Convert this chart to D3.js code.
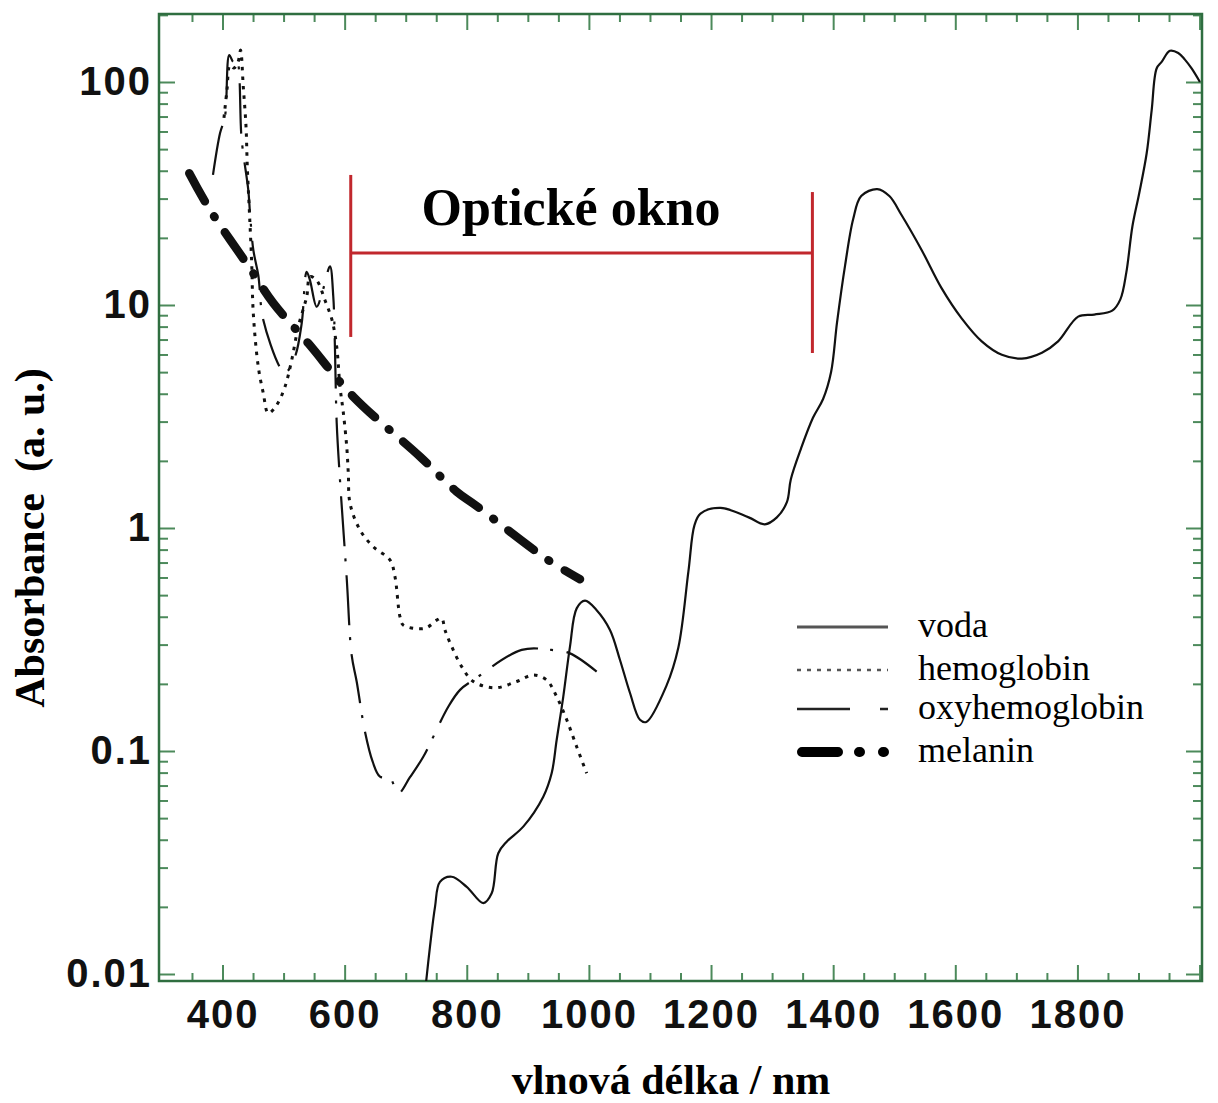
<!DOCTYPE html>
<meta charset="utf-8">
<style>
body { margin: 0; background: #fff; }
.frame { fill: none; stroke: #2f6e40; stroke-width: 2.5px; }
.ticks line { stroke: #4c8a5b; stroke-width: 2px; }
.ticks path { display: none; }
.labels path, .labels line { display: none; }
.labels text { font: bold 40px "Liberation Sans", Arial, sans-serif; letter-spacing: 2px; fill: #111; }
.axtitle { font: bold 42px "Liberation Serif", "Times New Roman", serif; fill: #000; white-space: pre; }
.window { font: bold 52px "Liberation Serif", "Times New Roman", serif; fill: #000; }
.curve { fill: none; stroke: #111; }
.legend text { font: 36px "Liberation Serif", "Times New Roman", serif; fill: #000; }
</style>

<svg id="chart" width="1218" height="1103"></svg>

<script src="https://cdn.jsdelivr.net/npm/d3@7"></script>
<script>

// wavelength (nm), absorbance (a.u.)
var voda = [
  [733, 0.009], [739.8, 0.0133], [748, 0.020], [756.1, 0.0259], [775.3, 0.0273], [799.9, 0.0246],
  [827, 0.0208], [840.8, 0.0230], [851.6, 0.0348], [865.4, 0.0392], [892.5, 0.0458], [925.3, 0.0624],
  [939, 0.0794], [947.2, 0.112], [958, 0.175], [969, 0.294], [980, 0.436], [993.6, 0.472],
  [1012.7, 0.428], [1034.5, 0.349], [1050.9, 0.256], [1067.3, 0.182], [1083.6, 0.138], [1094, 0.135],
  [1126.9, 0.196], [1146.5, 0.291], [1163, 0.641], [1172.9, 1.03], [1182.7, 1.16], [1215.6, 1.23],
  [1261.6, 1.116], [1288, 1.039], [1307.8, 1.116], [1324.2, 1.306], [1330.7, 1.656], [1347.3, 2.27],
  [1366.9, 3.12], [1383.5, 3.79], [1396.6, 5.01], [1406.4, 8.38], [1419.6, 15.1], [1432.8, 24.3],
  [1445.9, 30.8], [1472.2, 33.1], [1492, 30.8], [1511.7, 25.4], [1544.6, 17.7], [1577.5, 11.9],
  [1610.4, 8.71], [1643.3, 6.87], [1676.2, 5.98], [1709, 5.75], [1741.9, 6.11], [1768.3, 6.87],
  [1801.2, 8.87], [1827.5, 9.06], [1857, 9.43], [1870.3, 10.6], [1880.1, 14.0], [1890, 22.5],
  [1901.2, 31.7], [1913.4, 47.9], [1921.6, 74.8], [1929.7, 115], [1937.9, 123], [1951.5, 138],
  [1965.1, 135], [1976, 126], [1987, 115], [2000.6, 100]
];

var hemoglobin = [
  [402.4, 69.0], [407.3, 92.1], [412.3, 119], [418.8, 115.5], [425.4, 123], [429.5, 139],
  [434, 95.3], [438.5, 63.1], [440.6, 41.7], [443.9, 26.7], [447.8, 15.4], [450.4, 9.18],
  [458.6, 5.28], [466.8, 4.02], [475, 3.27], [488.7, 3.56], [502.3, 4.30], [513.3, 5.66],
  [524.1, 8.0], [537.9, 10.9], [543.3, 13.4], [554.2, 12.9], [567.8, 10.5], [579.3, 8.57],
  [587, 6.50], [592.4, 4.30], [597.8, 3.30], [603.4, 2.32], [606, 1.76], [608.8, 1.29],
  [625.1, 0.98], [646.9, 0.824], [674.2, 0.719], [682.4, 0.605], [690.6, 0.400], [696, 0.367],
  [731.6, 0.355], [750.7, 0.386], [758.9, 0.394], [764.3, 0.349], [775.3, 0.294], [791.7, 0.239],
  [810.7, 0.205], [846.2, 0.192], [881.8, 0.205], [909, 0.219], [930.9, 0.208], [947.3, 0.175],
  [963.7, 0.138], [980, 0.1045], [996.4, 0.0794]
];

var oxyhemoglobin = [
  [384.4, 38.3], [396, 59.0], [404, 69.8], [411.1, 132], [417.7, 123], [423.2, 126],
  [431.4, 55], [442.2, 32.8], [445, 25.9], [450.4, 17.7], [458.6, 13.6], [466.8, 8.57],
  [496.9, 5.12], [504, 5.0], [518.7, 5.86], [529.7, 8.28], [537.8, 14.1], [543.3, 12.9],
  [554.2, 9.82], [564.5, 11.7], [576, 14.9], [581.4, 10.9], [584.2, 6.28], [587, 2.96],
  [592.4, 1.64], [603.4, 0.595], [611.5, 0.269], [619.7, 0.205], [633.3, 0.122], [645.9, 0.0895],
  [657.9, 0.0767], [674.3, 0.0755], [687.9, 0.0646], [707, 0.0763], [728.8, 0.0943], [769.7, 0.158],
  [789, 0.188], [810.7, 0.208], [889.9, 0.284], [939, 0.284], [969, 0.274], [1012.7, 0.227]
];

var melanin = [
  [345.6, 39.0], [379.5, 26.7], [445, 14.6], [483.2, 10.2], [540.5, 6.73], [614.2, 3.88],
  [723.4, 2.09], [783.5, 1.455], [813.5, 1.27], [933, 0.719], [985.4, 0.589]
];

var xLabels = [400, 600, 800, 1000, 1200, 1400, 1600, 1800];
var yLabels = [100, 10, 1, 0.1, 0.01];
var legendNames = ["voda", "hemoglobin", "oxyhemoglobin", "melanin"];

// "Optické okno" bracket: wavelengths and absorbance ends
var windowNm = [610, 1366];
var windowLeft = [38.3, 7.19], windowRight = [32.1, 6.09], windowBar = 17.1;

var svg = d3.select("#chart");
var mLeft = 159, mRight = 1202, mTop = 14, mBottom = 981;

var x = d3.scaleLinear().domain([296, 2004]).range([mLeft, mRight]);
var y = d3.scaleLog()
    .domain([Math.pow(10, -2 - 7 / 223), Math.pow(10, 2 + 68 / 223)])
    .range([mBottom, mTop]);

var xMinor = d3.range(350, 2001, 50).filter(v => v % 200 != 0);
var xMajor = d3.range(400, 2001, 200);
var yMinor = [], yMajor = [];
for (var d = -2; d <= 2; d++)
  for (var k = 1; k <= 9; k++) {
    var v = k * Math.pow(10, d);
    if (v >= y.domain()[0] && v <= y.domain()[1]) (k == 1 ? yMajor : yMinor).push(v);
  }

// inward ticks on all four sides
function ticks(axis, vals, len, tr) {
  svg.append("g").attr("class", "ticks").attr("transform", tr)
    .call(axis.tickValues(vals).tickSize(-len).tickFormat(""));
}
ticks(d3.axisBottom(x), xMinor, 8, `translate(0,${mBottom})`);
ticks(d3.axisBottom(x), xMajor, 16, `translate(0,${mBottom})`);
ticks(d3.axisTop(x), xMinor, 8, `translate(0,${mTop})`);
ticks(d3.axisTop(x), xMajor, 16, `translate(0,${mTop})`);
ticks(d3.axisLeft(y), yMinor, 9, `translate(${mLeft},0)`);
ticks(d3.axisLeft(y), yMajor, 16, `translate(${mLeft},0)`);
ticks(d3.axisRight(y), yMinor, 9, `translate(${mRight},0)`);
ticks(d3.axisRight(y), yMajor, 16, `translate(${mRight},0)`);

svg.append("rect").attr("class", "frame")
  .attr("x", mLeft).attr("y", mTop).attr("width", mRight - mLeft).attr("height", mBottom - mTop);

// tick labels
svg.append("g").attr("class", "labels").attr("transform", `translate(0,${mBottom})`)
  .call(d3.axisBottom(x).tickValues(xLabels).tickSize(0).tickPadding(19).tickFormat(d3.format("d")));
svg.append("g").attr("class", "labels").attr("transform", `translate(${mLeft},0)`)
  .call(d3.axisLeft(y).tickValues(yLabels).tickSize(0).tickPadding(7).tickFormat(v => String(v)));

// axis titles
svg.append("text").attr("class", "axtitle")
  .attr("x", 671).attr("y", 1094).attr("text-anchor", "middle")
  .text("vlnová délka / nm");
svg.append("text").attr("class", "axtitle")
  .attr("transform", "translate(44,538) rotate(-90)").attr("text-anchor", "middle")
  .text("Absorbance  (a. u.)");

// curves
svg.append("clipPath").attr("id", "plot")
  .append("rect").attr("x", mLeft).attr("y", mTop).attr("width", mRight - mLeft).attr("height", mBottom - mTop);
var plot = svg.append("g").attr("clip-path", "url(#plot)");

var line = d3.line().x(d => x(d[0])).y(d => y(d[1])).curve(d3.curveCatmullRom.alpha(0.5));

plot.append("path").datum(voda).attr("class", "curve")
  .attr("stroke-width", 2.2).attr("d", line);
plot.append("path").datum(hemoglobin).attr("class", "curve")
  .attr("stroke-width", 3).attr("stroke-dasharray", "3.5,6").attr("d", line);
plot.append("path").datum(oxyhemoglobin).attr("class", "curve")
  .attr("stroke-width", 2.2).attr("stroke-dasharray", "50,12,3,14").attr("d", line);
plot.append("path").datum(melanin).attr("class", "curve")
  .attr("stroke-width", 8.5).attr("stroke-linecap", "round")
  .attr("stroke-dasharray", "32,18,1,18").attr("d", line);

// optical window bracket
var red = "#c1272d";
var br = svg.append("g").attr("stroke", red).attr("stroke-width", 3);
br.append("line").attr("x1", x(windowNm[0])).attr("x2", x(windowNm[0]))
  .attr("y1", y(windowLeft[0])).attr("y2", y(windowLeft[1]));
br.append("line").attr("x1", x(windowNm[1])).attr("x2", x(windowNm[1]))
  .attr("y1", y(windowRight[0])).attr("y2", y(windowRight[1]));
br.append("line").attr("x1", x(windowNm[0])).attr("x2", x(windowNm[1]))
  .attr("y1", y(windowBar)).attr("y2", y(windowBar));
svg.append("text").attr("class", "window")
  .attr("x", 571).attr("y", 225).attr("text-anchor", "middle")
  .text("Optické okno");

// legend
var legend = svg.append("g").attr("class", "legend");
var legY = [627, 670, 709, 752];
var legStyle = [
  {w: 3, dash: null, col: "#555", cap: "butt", x1: 797, x2: 888},
  {w: 2.6, dash: "4,6", col: "#555", cap: "butt", x1: 797, x2: 888},
  {w: 2.6, dash: "53,30,8", col: "#222", cap: "butt", x1: 797, x2: 888},
  {w: 10, dash: "36,21,1,23,1,100", col: "#000", cap: "round", x1: 802, x2: 885}
];
legendNames.forEach(function(name, i) {
  var s = legStyle[i];
  legend.append("line")
    .attr("x1", s.x1).attr("x2", s.x2).attr("y1", legY[i]).attr("y2", legY[i])
    .attr("stroke", s.col).attr("stroke-width", s.w).attr("stroke-linecap", s.cap)
    .attr("stroke-dasharray", s.dash);
  legend.append("text").attr("x", 918).attr("y", legY[i] + 10).text(name);
});

</script>
